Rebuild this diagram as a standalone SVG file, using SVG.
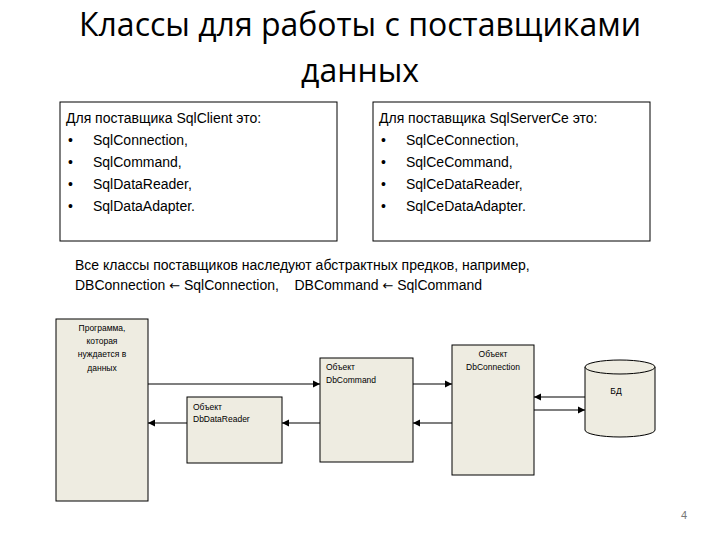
<svg xmlns="http://www.w3.org/2000/svg" width="720" height="540" viewBox="0 0 720 540">
<defs>
<style>
.t{font-family:"Liberation Sans",Arial,sans-serif;font-size:14px;fill:#000}
.ti{font-family:"Open Sans","Liberation Sans",sans-serif;font-size:32px;fill:#000}
.s{font-family:"Liberation Sans",Arial,sans-serif;font-size:8.5px;fill:#000}
.pb{fill:#fff;stroke:#000;stroke-width:1}
.nb{fill:#eeece1;stroke:#000;stroke-width:1}
.c{stroke:#000;stroke-width:1.2;fill:none;marker-end:url(#a)}
</style>
<marker id="a" markerWidth="8" markerHeight="8" refX="7" refY="4" orient="auto" markerUnits="userSpaceOnUse"><path d="M0,0.5 L7,4 L0,7.5z" fill="#000"/></marker>
</defs>
<rect width="720" height="540" fill="#fff"/>
<text class="ti" x="360" y="36" text-anchor="middle">Классы для работы с поставщиками</text>
<text class="ti" x="360" y="82" text-anchor="middle">данных</text>
<g id="box-sqlclient">
<rect class="pb" x="60" y="102" width="277" height="139"/>
<text class="t" x="66" y="123">Для поставщика SqlClient это:</text>
<text class="t" x="68" y="145">•</text><text class="t" x="93" y="145">SqlConnection,</text>
<text class="t" x="68" y="167">•</text><text class="t" x="93" y="167">SqlCommand,</text>
<text class="t" x="68" y="189">•</text><text class="t" x="93" y="189">SqlDataReader,</text>
<text class="t" x="68" y="211">•</text><text class="t" x="93" y="211">SqlDataAdapter.</text>
</g>
<g id="box-sqlserverce">
<rect class="pb" x="373" y="102" width="277" height="139"/>
<text class="t" x="379" y="123">Для поставщика SqlServerCe это:</text>
<text class="t" x="381" y="145">•</text><text class="t" x="406" y="145">SqlCeConnection,</text>
<text class="t" x="381" y="167">•</text><text class="t" x="406" y="167">SqlCeCommand,</text>
<text class="t" x="381" y="189">•</text><text class="t" x="406" y="189">SqlCeDataReader,</text>
<text class="t" x="381" y="211">•</text><text class="t" x="406" y="211">SqlCeDataAdapter.</text>
</g>
<text class="t" x="75" y="270">Все классы поставщиков наследуют абстрактных предков, например,</text>
<text class="t" x="75" y="290" xml:space="preserve">DBConnection <tspan style="font-family:'DejaVu Sans',sans-serif;font-size:13px">←</tspan> SqlConnection,    DBCommand <tspan style="font-family:'DejaVu Sans',sans-serif;font-size:13px">←</tspan> SqlCommand</text>
<g id="program">
<rect class="nb" x="56" y="319" width="92" height="182"/>
<text class="s" x="102" y="331" text-anchor="middle">Программа,</text>
<text class="s" x="102" y="344" text-anchor="middle">которая</text>
<text class="s" x="102" y="357" text-anchor="middle">нуждается в</text>
<text class="s" x="102" y="371" text-anchor="middle">данных</text>
</g>
<g id="reader">
<rect class="nb" x="187" y="397" width="95" height="66"/>
<text class="s" x="193" y="410">Объект</text>
<text class="s" x="193" y="422">DbDataReader</text>
</g>
<g id="command">
<rect class="nb" x="320" y="358" width="93" height="104"/>
<text class="s" x="326" y="370">Объект</text>
<text class="s" x="326" y="383">DbCommand</text>
</g>
<g id="connection">
<rect class="nb" x="452" y="345" width="82" height="130"/>
<text class="s" x="493" y="357" text-anchor="middle">Объект</text>
<text class="s" x="493" y="370" text-anchor="middle">DbConnection</text>
</g>
<g id="db">
<path class="nb" d="M585,367 L585,430 A35,7 0 0 0 655,430 L655,367"/>
<ellipse class="nb" cx="620" cy="367" rx="35" ry="7"/>
<text class="s" x="616" y="394" text-anchor="middle">БД</text>
</g>
<g id="connectors">
<line class="c" x1="148" y1="384" x2="320" y2="384"/>
<line class="c" x1="413" y1="384" x2="452" y2="384"/>
<line class="c" x1="452" y1="423" x2="413" y2="423"/>
<line class="c" x1="320" y1="423" x2="282" y2="423"/>
<line class="c" x1="187" y1="423" x2="148" y2="423"/>
<line class="c" x1="585" y1="397" x2="534" y2="397"/>
<line class="c" x1="534" y1="410" x2="585" y2="410"/>
</g>
<text x="681" y="519" style="font-family:'Liberation Sans',sans-serif;font-size:11px;fill:#777">4</text>
</svg>
